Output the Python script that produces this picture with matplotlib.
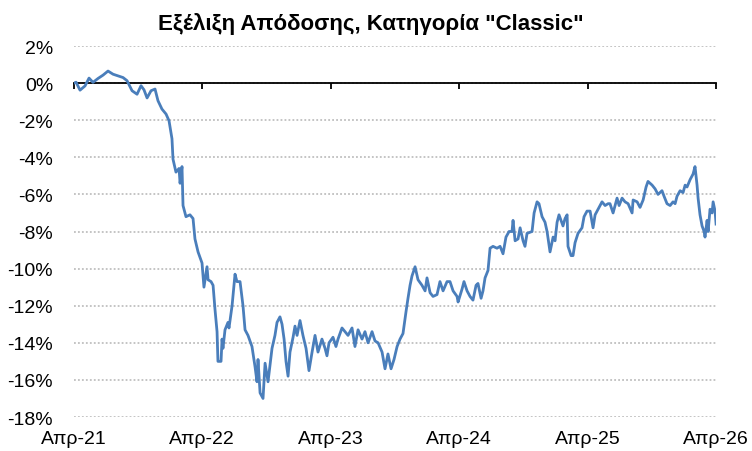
import matplotlib.pyplot as plt
import matplotlib.dates as mdates
from matplotlib.ticker import FuncFormatter
from datetime import datetime

plt.rcParams["font.family"] = ["Liberation Sans", "DejaVu Sans"]

# years elapsed since April 2021
years = [
    0.000, 0.016, 0.047, 0.086, 0.117, 0.148, 0.187, 0.226, 0.265, 0.304,
    0.343, 0.382, 0.413, 0.452, 0.491, 0.522, 0.545, 0.569, 0.600, 0.631,
    0.654, 0.685, 0.717, 0.740, 0.763, 0.771, 0.794, 0.818, 0.826, 0.841,
    0.849, 0.872, 0.903, 0.927, 0.942, 0.966, 0.997, 1.012, 1.036, 1.044,
    1.067, 1.083, 1.098, 1.114, 1.121, 1.145, 1.153, 1.160, 1.176, 1.199,
    1.207, 1.231, 1.254, 1.269, 1.293, 1.316, 1.332, 1.355, 1.386, 1.410,
    1.425, 1.433, 1.449, 1.472, 1.488, 1.511, 1.542, 1.565, 1.581, 1.604,
    1.620, 1.636, 1.651, 1.667, 1.682, 1.706, 1.721, 1.737, 1.760, 1.783,
    1.807, 1.830, 1.854, 1.877, 1.900, 1.931, 1.955, 1.970, 1.986, 2.017,
    2.040, 2.056, 2.087, 2.111, 2.134, 2.165, 2.188, 2.212, 2.243, 2.266,
    2.290, 2.321, 2.344, 2.368, 2.399, 2.422, 2.445, 2.469, 2.492, 2.516,
    2.539, 2.562, 2.586, 2.601, 2.617, 2.632, 2.656, 2.679, 2.710, 2.734,
    2.749, 2.773, 2.796, 2.827, 2.850, 2.874, 2.905, 2.928, 2.952, 2.983,
    2.991, 3.022, 3.037, 3.061, 3.084, 3.107, 3.131, 3.146, 3.170, 3.185,
    3.201, 3.224, 3.240, 3.263, 3.294, 3.318, 3.341, 3.364, 3.388, 3.411,
    3.419, 3.435, 3.458, 3.474, 3.497, 3.512, 3.528, 3.567, 3.583, 3.606,
    3.621, 3.645, 3.668, 3.684, 3.707, 3.731, 3.746, 3.762, 3.777, 3.808,
    3.824, 3.840, 3.847, 3.871, 3.886, 3.902, 3.925, 3.956, 3.972, 3.995,
    4.019, 4.042, 4.058, 4.081, 4.112, 4.136, 4.159, 4.174, 4.198, 4.229,
    4.245, 4.268, 4.291, 4.315, 4.346, 4.354, 4.385, 4.408, 4.432, 4.455,
    4.470, 4.502, 4.525, 4.548, 4.579, 4.595, 4.618, 4.642, 4.665, 4.681,
    4.696, 4.720, 4.743, 4.759, 4.774, 4.798, 4.821, 4.836, 4.852, 4.860,
    4.875, 4.891, 4.907, 4.914, 4.930, 4.938, 4.953, 4.969, 4.977, 4.992,
    5.000,
]

# cumulative return, %
returns = [
    0.00, 0.05, -0.38, -0.15, 0.27, 0.04, 0.25, 0.43, 0.65, 0.48,
    0.39, 0.30, 0.13, -0.41, -0.60, -0.14, -0.36, -0.80, -0.41, -0.32,
    -0.95, -1.40, -1.67, -2.03, -3.0, -4.1, -4.8, -4.6, -5.4, -4.5,
    -6.6, -7.2, -7.1, -7.3, -8.4, -9.1, -9.7, -11.0, -9.9, -10.6,
    -10.7, -10.9, -12.2, -13.4, -15.0, -15.0, -13.8, -14.3, -13.3, -12.9,
    -13.2, -12.0, -10.3, -10.7, -10.7, -12.0, -13.3, -13.6, -14.2, -15.3,
    -16.1, -14.9, -16.7, -17.0, -15.1, -16.1, -14.3, -13.6, -12.9, -12.6,
    -13.0, -13.8, -15.0, -15.8, -14.5, -13.7, -13.1, -13.6, -12.8, -13.6,
    -14.3, -15.5, -14.5, -13.6, -14.5, -13.8, -14.3, -14.7, -14.0, -13.7,
    -14.2, -13.8, -13.2, -13.4, -13.6, -13.2, -14.2, -13.3, -13.8, -13.4,
    -14.0, -13.4, -13.9, -14.0, -14.5, -15.4, -14.6, -15.4, -14.9, -14.2,
    -13.8, -13.5, -12.3, -11.6, -10.9, -10.4, -9.9, -10.6, -10.9, -11.2,
    -10.5, -11.3, -11.5, -11.4, -10.7, -11.2, -10.7, -10.7, -11.2, -11.5,
    -11.8, -11.1, -10.7, -11.2, -11.5, -11.7, -10.9, -10.8, -11.6, -11.2,
    -10.5, -10.1, -8.9, -8.8, -8.9, -8.8, -9.2, -8.3, -8.0, -8.0,
    -7.4, -8.5, -8.4, -7.8, -8.5, -8.8, -8.1, -8.0, -7.0, -6.4,
    -6.5, -7.2, -7.5, -8.0, -9.1, -8.3, -8.5, -7.5, -7.1, -7.7,
    -7.3, -7.1, -8.8, -9.3, -9.3, -8.6, -8.1, -7.8, -7.2, -6.9,
    -6.9, -7.8, -7.1, -6.8, -6.4, -6.6, -6.5, -6.5, -7.0, -6.2,
    -6.6, -6.2, -6.4, -6.5, -7.0, -6.3, -6.4, -6.7, -6.3, -5.6,
    -5.3, -5.5, -5.7, -6.0, -5.8, -6.1, -6.5, -6.6, -6.4, -6.5,
    -6.1, -5.8, -5.9, -5.5, -5.6, -5.2, -4.9, -4.5, -5.5, -6.2,
    -7.1, -7.7, -8.0, -8.3, -7.4, -8.0, -6.8, -7.0, -6.4, -6.9,
    -7.6,
]

tick_years = [2021, 2022, 2023, 2024, 2025, 2026]
tick_labels = ["Απρ-21", "Απρ-22", "Απρ-23", "Απρ-24", "Απρ-25", "Απρ-26"]
y_ticks = list(range(-18, 3, 2))

start = mdates.date2num(datetime(2021, 4, 1))
dates = [start + t * 365.25 for t in years]
tick_pos = [mdates.date2num(datetime(y, 4, 1)) for y in tick_years]

fig = plt.figure(figsize=(7.52, 4.52), dpi=100)
ax = fig.add_axes([0.0984, 0.0752, 0.8537, 0.8208])

ax.plot(dates, returns, color="#4A7EBB", linewidth=2.0, zorder=3)

ax.set_xlim(tick_pos[0], tick_pos[-1])
ax.set_ylim(-18, 2)
ax.set_yticks(y_ticks)
ax.yaxis.set_major_formatter(FuncFormatter(lambda v, _: f"{v:.0f}%"))
ax.tick_params(axis="y", length=0, pad=15, labelsize=14)
ax.grid(axis="y", color="#BFBFBF", linestyle=(0, (1, 1.2)), linewidth=1.3)

for side in ["left", "right", "top"]:
    ax.spines[side].set_visible(False)
ax.spines["bottom"].set_position(("data", 0))
ax.spines["bottom"].set_linewidth(1.3)
ax.spines["bottom"].set_zorder(2)
ax.set_xticks(tick_pos)
ax.tick_params(axis="x", direction="out", length=4, width=1.3, labelbottom=False)

sec = ax.secondary_xaxis("bottom")
sec.set_xticks(tick_pos, labels=tick_labels)
sec.tick_params(length=0, pad=9, labelsize=14)
sec.spines["bottom"].set_visible(False)

ax.set_title('Εξέλιξη Απόδοσης, Κατηγορία "Classic"', fontsize=16,
             fontweight="bold", pad=12, x=0.463)

fig.savefig("out.png", dpi=100)
